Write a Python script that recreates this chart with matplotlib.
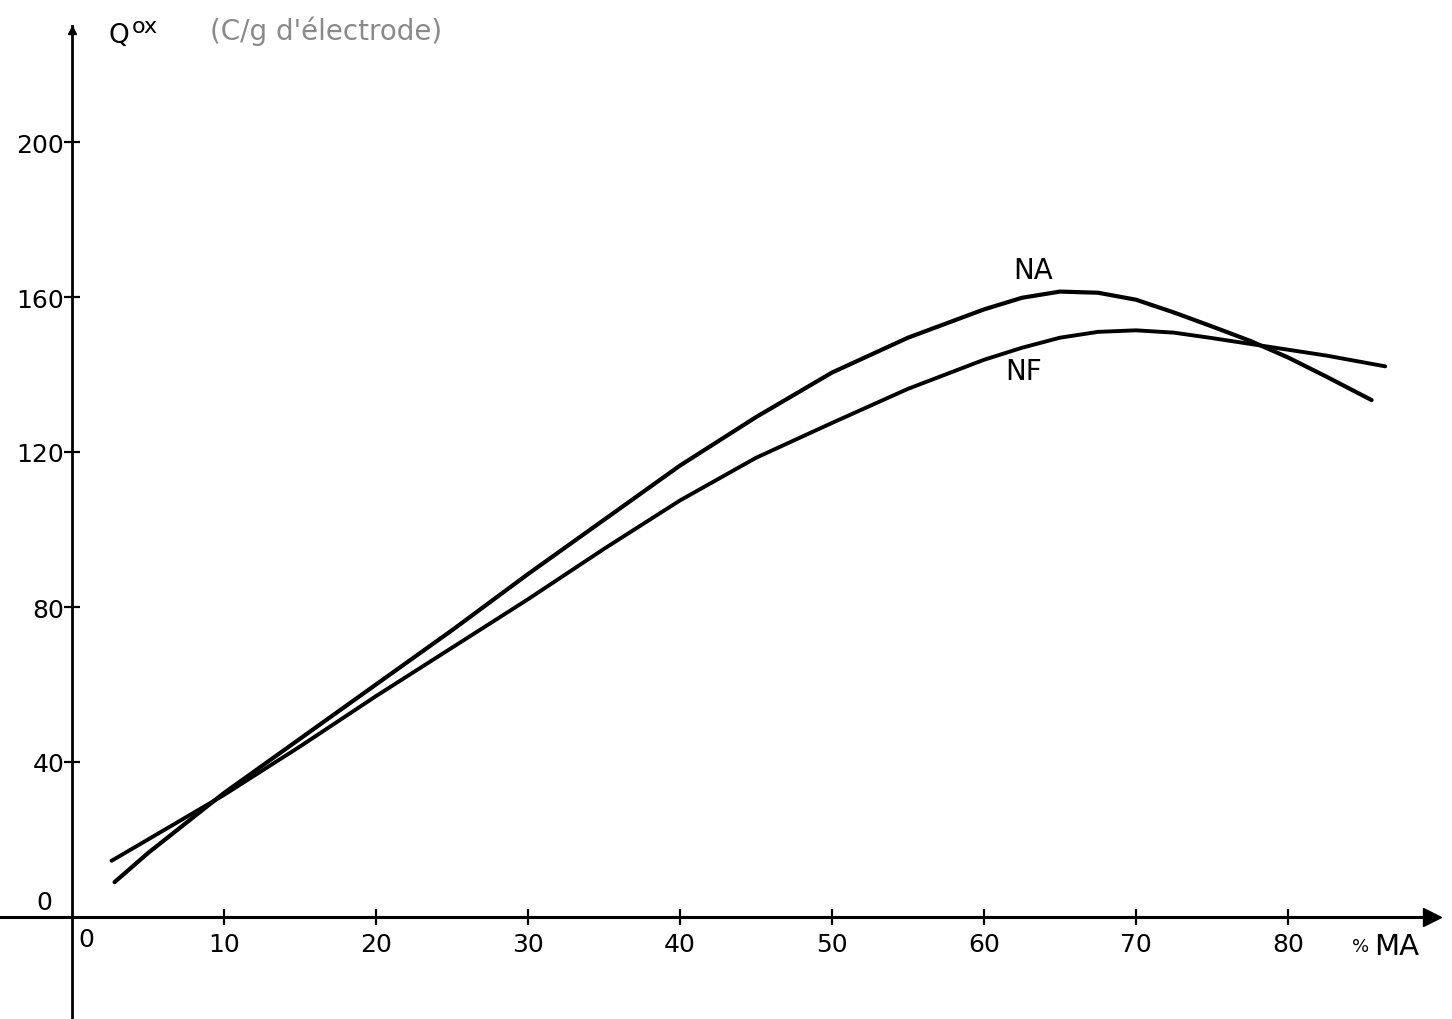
import numpy as np
import matplotlib.pyplot as plt

plt.rcParams['font.family'] = ['DejaVu Sans']

# values (Qox in C/g, x in %MA)
na_x = [2.8, 5, 10, 15, 20, 25, 30, 35, 40, 45, 50, 55, 60, 62.5, 65, 67.5, 70,
        72.5, 75, 77.5, 80, 82.5, 85.5]
na_q = [9, 16.5, 32, 46, 60, 74, 88.5, 102.5, 116.5, 129, 140.5, 149.5, 156.8, 159.8,
        161.4, 161.1, 159.3, 156, 152.4, 148.7, 144.4, 139.5, 133.4]

nf_x = [2.6, 5, 10, 15, 20, 25, 30, 35, 40, 45, 50, 55, 60, 62.5, 65, 67.5, 70,
        72.5, 75, 77.5, 80, 82.5, 86.4]
nf_q = [14.5, 20, 31.5, 44, 57, 69.5, 82, 95, 107.5, 118.5, 127.5, 136.3, 143.8, 146.9,
        149.5, 151, 151.4, 150.8, 149.4, 147.9, 146.4, 144.9, 142.1]

xticks = [10, 20, 30, 40, 50, 60, 70, 80]
yticks = [40, 80, 120, 160, 200]

W, H = 1452, 1020
fig = plt.figure(figsize=(W / 100, H / 100), dpi=100)
ax = fig.add_axes([0, 0, 1, 1])

# pixel -> data mapping
x0px, xscale = 72, 15.2
y0px, yscale = 918, 3.875
ax.set_xlim(-x0px / xscale, (W - x0px) / xscale)
ax.set_ylim((y0px - H) / yscale, y0px / yscale)

ax.plot(na_x, na_q, color='black', lw=3.0, solid_capstyle='round', solid_joinstyle='round')
ax.plot(nf_x, nf_q, color='black', lw=2.8, solid_capstyle='round', solid_joinstyle='round')

# axes through the origin
for s in ['top', 'right']:
    ax.spines[s].set_visible(False)
ax.spines['left'].set_position(('data', 0))
ax.spines['bottom'].set_position(('data', 0))
ax.spines['left'].set_linewidth(2.0)
ax.spines['bottom'].set_linewidth(2.2)
ax.spines['left'].set_bounds(-30, 230)
ax.spines['bottom'].set_bounds(-5, 89.5)
ax.plot(89.5, 0, '>', color='black', ms=13, clip_on=False)
ax.plot(0, 229, '^', color='black', ms=6, clip_on=False)

ax.set_xticks(xticks)
ax.set_yticks(yticks)
ax.tick_params(axis='both', direction='inout', length=11, width=1.6, labelsize=18, colors='black')
ax.tick_params(axis='x', pad=5)
ax.tick_params(axis='y', pad=0)

# the two zeros sit off the origin
ax.text(0.92, -5.7, '0', fontsize=18, ha='center', va='center')
ax.text(-1.3, 3.9, '0', fontsize=18, ha='right', va='center')

# axis titles
ax.text(108 / W, 1 - 36 / H, 'Q', fontsize=19, transform=ax.transAxes, ha='left', va='center')
ax.text(132 / W, 1 - 27 / H, 'ox', fontsize=16, transform=ax.transAxes, ha='left', va='center')
ax.text(210 / W, 1 - 31 / H, "(C/g d'électrode)", fontsize=20, color='#8a8a8a',
        transform=ax.transAxes, ha='left', va='center')
ax.text(1352 / W, 1 - 947 / H, '%', fontsize=13, transform=ax.transAxes, ha='left', va='center')
ax.text(1374 / W, 1 - 947 / H, 'MA', fontsize=21, transform=ax.transAxes, ha='left', va='center')

# curve names
ax.text(63.2, 167, 'NA', fontsize=20, ha='center', va='center')
ax.text(62.6, 141, 'NF', fontsize=20, ha='center', va='center')

fig.savefig('out.png', dpi=100)
